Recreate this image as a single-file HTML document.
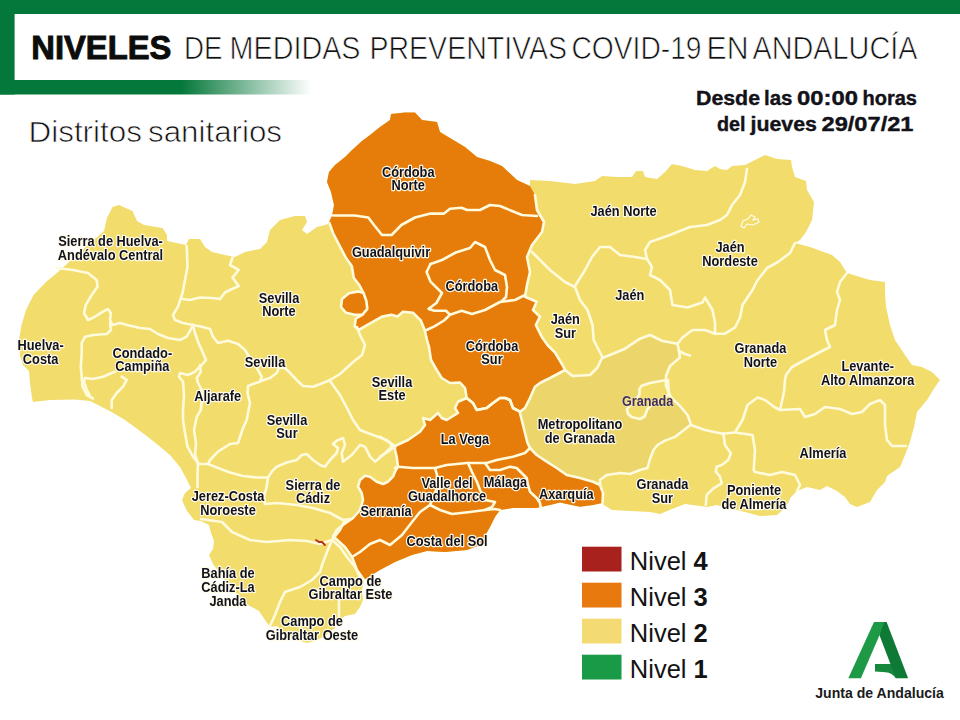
<!DOCTYPE html>
<html lang="es"><head><meta charset="utf-8"><title>Niveles de medidas preventivas COVID-19 en Andalucía</title>
<style>html,body{margin:0;padding:0;background:#fff}body{width:960px;height:720px;overflow:hidden}svg{display:block}text{font-family:"Liberation Sans",sans-serif}.lb{font-weight:bold;font-size:14px;fill:#12121f;stroke:#fffbe8;stroke-width:2.5px;stroke-linejoin:round;paint-order:stroke fill;text-anchor:middle}.bd{fill:none;stroke:#fffbdc;stroke-width:2.6;stroke-linejoin:round;stroke-linecap:round}</style></head><body>
<svg width="960" height="720" viewBox="0 0 960 720">
<defs><linearGradient id="fade" x1="0" y1="0" x2="1" y2="0"><stop offset="0" stop-color="#04773a"/><stop offset="0.58" stop-color="#04773a"/><stop offset="1" stop-color="#ffffff"/></linearGradient></defs>
<rect width="960" height="720" fill="#ffffff"/>
<rect x="0" y="0" width="960" height="14" fill="#04773a"/>
<rect x="0" y="0" width="14.6" height="94.5" fill="#04773a"/>
<rect x="0" y="80" width="312" height="14.5" fill="url(#fade)"/>
<g opacity="0.999">
<text x="31.3" y="58.8" font-size="34" font-weight="bold" fill="#0c0c0c" stroke="#0c0c0c" stroke-width="1" textLength="140" lengthAdjust="spacingAndGlyphs">NIVELES</text>
<text x="184" y="59" font-size="31" fill="#111" stroke="#fff" stroke-width="0.7" textLength="38.5" lengthAdjust="spacingAndGlyphs">DE</text>
<text x="229.5" y="59" font-size="31" fill="#111" stroke="#fff" stroke-width="0.7" textLength="131" lengthAdjust="spacingAndGlyphs">MEDIDAS</text>
<text x="369.5" y="59" font-size="31" fill="#111" stroke="#fff" stroke-width="0.7" textLength="197.5" lengthAdjust="spacingAndGlyphs">PREVENTIVAS</text>
<text x="571.5" y="59" font-size="31" fill="#111" stroke="#fff" stroke-width="0.7" textLength="130" lengthAdjust="spacingAndGlyphs">COVID-19</text>
<text x="706.5" y="59" font-size="31" fill="#111" stroke="#fff" stroke-width="0.7" textLength="42" lengthAdjust="spacingAndGlyphs">EN</text>
<text x="752.5" y="59" font-size="31" fill="#111" stroke="#fff" stroke-width="0.7" textLength="165" lengthAdjust="spacingAndGlyphs">ANDALUCÍA</text>
<text x="28.5" y="141.5" font-size="30" fill="#111" stroke="#fff" stroke-width="0.7" textLength="113.5" lengthAdjust="spacingAndGlyphs">Distritos</text>
<text x="148" y="141.5" font-size="30" fill="#111" stroke="#fff" stroke-width="0.7" textLength="134" lengthAdjust="spacingAndGlyphs">sanitarios</text>
<text x="696" y="104.6" font-size="21" font-weight="bold" fill="#121218" stroke="#121218" stroke-width="0.4" textLength="64" lengthAdjust="spacingAndGlyphs">Desde</text>
<text x="764" y="104.6" font-size="21" font-weight="bold" fill="#121218" stroke="#121218" stroke-width="0.4" textLength="28.5" lengthAdjust="spacingAndGlyphs">las</text>
<text x="797" y="104.6" font-size="21" font-weight="bold" fill="#121218" stroke="#121218" stroke-width="0.4" textLength="61" lengthAdjust="spacingAndGlyphs">00:00</text>
<text x="862.5" y="104.6" font-size="21" font-weight="bold" fill="#121218" stroke="#121218" stroke-width="0.4" textLength="54.5" lengthAdjust="spacingAndGlyphs">horas</text>
<text x="717" y="131.3" font-size="21" font-weight="bold" fill="#121218" stroke="#121218" stroke-width="0.4" textLength="28.5" lengthAdjust="spacingAndGlyphs">del</text>
<text x="750.5" y="131.3" font-size="21" font-weight="bold" fill="#121218" stroke="#121218" stroke-width="0.4" textLength="66.5" lengthAdjust="spacingAndGlyphs">jueves</text>
<text x="821.5" y="131.3" font-size="21" font-weight="bold" fill="#121218" stroke="#121218" stroke-width="0.4" textLength="92" lengthAdjust="spacingAndGlyphs">29/07/21</text>
</g>
<g id="map">
<path d="M112.5,207 L119,205 L132.5,211 L137,221 L144,225 L162.5,228 L167,235 L167,241 L186,245 L189,239 L200,239 L205,247 L212,252 L225,255 L235,257 L245,252 L260,249 L267,242 L270,230 L280,220 L295,216 L305,216 L307,222 L302,230 L307,234 L317,227 L325,225 L328,224 L332,216 L334,205 L331,192 L327,182 L329,172 L335,165 L345,157 L352,150 L362,141 L370,135 L380,127 L390,120 L391,114 L405,112.5 L415,112.5 L422,120 L437,122 L440,132 L455,141 L465,147 L477,157 L490,161 L502,166 L517,180 L530,186 L530,180 L550,181 L575,184 L595,181 L602,176 L617,177 L632,177 L636,171 L643,171 L645,177 L657,179 L665,172 L672,164 L682,166 L695,170 L707,171 L715,166 L720,169 L727,170 L732,166 L745,165 L755,160 L765,155 L777,159 L791,160 L792,167 L795,177 L806,181 L807,190 L814,202 L812,220 L806,232 L800,240 L795,243 L810,247 L832,255 L840,262 L847,273 L860,277 L870,280 L885,282 L885,292 L886,307 L890,325 L895,340 L905,355 L912,365 L922,367 L932,372 L940,380 L935,387 L927,400 L917,412 L914,427 L910,442 L905,455 L900,467 L887,476 L885,482 L877,490 L870,502 L857,507 L850,504 L845,497 L837,491 L827,486 L820,490 L807,487 L797,491 L791,497 L786,507 L777,515 L760,516 L745,512 L720,506 L717,505 L707,507 L700,506 L685,504 L672,509 L660,514 L650,512 L630,511 L612,510 L604,505 L602.5,503 L593,505 L580,506.7 L566.7,504 L560,502.5 L550,505 L541.7,506.7 L536.7,508 L513,508 L500,510 L495,517 L490,527 L485,536 L480,545 L467,550 L445,552 L427,551 L412,555 L395,562 L380,570 L370,576 L364,580 L362,590 L363,600 L360,607 L355,614 L345,616 L340,620 L335,628 L325,636 L315,641 L307,643 L297,640 L285,633 L277,626 L270,627 L265,620 L259,611 L248,605 L235,592 L225,580 L213,564 L209,555 L213,549 L214,541 L211,533 L209,525 L201,521 L194,520 L187,511 L182,500 L185,493 L191,488 L186,478 L180,467 L170,455 L155,442.5 L140,431 L125,420 L112.5,412.5 L100,406 L90,401 L75,399.5 L50,400 L33,402 L32,398 L30,383 L29,371 L23,365 L20,356 L19,340 L21.5,325 L26,310 L33.5,295 L46,282 L58,272 L80,252 L104,231 L107,218Z" fill="#f2dc6b"/>
<path d="M565,370 L572.5,376 L590,375 L597.5,367.5 L602,358 L607.5,356 L625,348.7 L640,338.7 L650,335 L662.5,341 L677.5,343.7 L679,351 L680,357.5 L670,366 L666,376 L666,386 L671,397.5 L680,406 L687.5,415 L691,424.5 L684,430 L675,436.9 L665,440.6 L657.5,445 L653.5,450 L650,459 L647.5,468 L640,470 L630,474 L620,473 L606.7,475 L600,480 L600,485 L593,481.7 L580,478 L566.7,475 L556.7,468 L546.7,461.7 L536.7,455 L530,448 L527.5,443 L525,433 L522.5,423 L520,413 L520,411.7 L525,408 L530,398 L535,386.7 L540,383 L550,378 L557,374Z" fill="#ecd66b"/>
<path d="M668,380 L662,380.7 L650,383 L641.7,385.8 L639.5,388.7 L639.5,394.6 L635,400 L627,409 L627.8,413.5 L631.5,417 L640,419 L644.6,416.5 L647.5,409 L655,402 L669,394.6 L668.6,388.7Z" fill="#f2dc6b"/>
<path class="bd" d="M668,380 L662,380.7 L650,383 L641.7,385.8 L639.5,388.7 L639.5,394.6 L635,400 L627,409 L627.8,413.5 L631.5,417 L640,419 L644.6,416.5 L647.5,409 L655,402 L669,394.6 L668.6,388.7Z"/>
<path d="M328,224 L332,216 L334,205 L331,192 L327,182 L329,172 L335,165 L345,157 L352,150 L362,141 L370,135 L380,127 L390,120 L391,114 L405,112.5 L415,112.5 L422,120 L437,122 L440,132 L455,141 L465,147 L477,157 L490,161 L502,166 L517,180 L530,186 L535,195 L537,210 L544,222 L542,232 L532,245 L527,257 L530,272 L527,285 L525,296.7 L536.7,301.7 L533,310 L540,316.7 L535.8,325 L541.7,336.7 L547.5,345 L555,352.5 L562.5,365 L565,370 L550,378 L540,383 L535,386.7 L530,398 L525,408 L520,411.7 L513,408 L510,400 L505,398 L500,398 L493,403 L486.7,408 L476.7,410 L473,403 L466.7,398 L465,388 L460,382.5 L450,383 L441.7,378 L436.7,370 L431,360 L429,347 L427,340 L424.7,330 L420.8,320.5 L413,312.8 L403,311.8 L397.5,316.6 L391.6,314.7 L382,316.6 L368.3,324.4 L358.6,330 L354.7,326.4 L355.7,318.6 L362.5,314.7 L354.7,314.7 L346,312.8 L341,307 L342,299 L348.9,293.3 L358.6,291.4 L363.5,293 L359.6,285.5 L353.7,277.8 L351.8,266 L346,258 L339,244.7 L333,233 L329.4,223Z" fill="#e67c0a"/>
<path d="M395,446 L408,440 L420,431.7 L425,425 L423,418 L430,420 L438,413 L441.7,418 L446.7,420 L458,413 L455,408 L458,401.7 L466.7,398 L473,403 L476.7,410 L486.7,408 L493,403 L500,398 L505,398 L510,400 L513,408 L520,411.7 L520,413 L522.5,423 L525,433 L527.5,443 L530,448 L536.7,455 L546.7,461.7 L556.7,468 L566.7,475 L580,478 L593,481.7 L600,485 L603,493 L602.5,503 L593,505 L580,506.7 L566.7,504 L560,502.5 L550,505 L541.7,506.7 L536.7,508 L513,508 L500,510 L495,517 L490,527 L485,536 L480,545 L467,550 L445,552 L427,551 L412,555 L395,562 L380,570 L370,576 L364,580 L357,570 L352,557 L345,547 L335,538 L333,536.7 L336.7,530 L343,525 L353,518 L360,510 L363,500 L361.7,493 L358,486.7 L360,480 L365,475.8 L370,476.7 L376.7,481.7 L383,484 L388,481.7 L393,476.7 L395,471.7 L398,466.7 L396.7,456.7 L395,450Z" fill="#e67c0a"/>
<path class="bd" d="M535,195 L537,210 L544,222 L542,232 L532,245 L527,257 L530,272 L527,285 L525,296.7 L536.7,301.7 L533,310 L540,316.7 L535.8,325 L541.7,336.7 L547.5,345 L555,352.5 L562.5,365 L565,370 L550,378 L540,383 L535,386.7 L530,398 L525,408 L520,411.7 L513,408 L510,400 L505,398 L500,398 L493,403 L486.7,408 L476.7,410 L473,403 L466.7,398 L465,388 L460,382.5 L450,383 L441.7,378 L436.7,370 L431,360 L429,347 L427,340 L424.7,330 L420.8,320.5 L413,312.8 L403,311.8 L397.5,316.6 L391.6,314.7 L382,316.6 L368.3,324.4 L358.6,330 L354.7,326.4 L355.7,318.6 L362.5,314.7 L354.7,314.7 L346,312.8 L341,307 L342,299 L348.9,293.3 L358.6,291.4 L363.5,293 L359.6,285.5 L353.7,277.8 L351.8,266 L346,258 L339,244.7 L333,233 L329.4,223"/>
<path class="bd" d="M395,446 L408,440 L420,431.7 L425,425 L423,418 L430,420 L438,413 L441.7,418 L446.7,420 L458,413 L455,408 L458,401.7 L466.7,398 L473,403 L476.7,410 L486.7,408 L493,403 L500,398 L505,398 L510,400 L513,408 L520,411.7 L520,413 L522.5,423 L525,433 L527.5,443 L530,448 L536.7,455 L546.7,461.7 L556.7,468 L566.7,475 L580,478 L593,481.7 L600,485 L603,493 L602.5,503"/>
<path class="bd" d="M364,580 L357,570 L352,557 L345,547 L335,538 L333,536.7 L336.7,530 L343,525 L353,518 L360,510 L363,500 L361.7,493 L358,486.7 L360,480 L365,475.8 L370,476.7 L376.7,481.7 L383,484 L388,481.7 L393,476.7 L395,471.7 L398,466.7 L396.7,456.7 L395,450 L395,446"/>
<path class="bd" d="M565,370 L572.5,376 L590,375 L597.5,367.5 L602,358 L607.5,356 L625,348.7 L640,338.7 L650,335 L662.5,341 L677.5,343.7 L679,351 L680,357.5 L670,366 L666,376 L666,386 L671,397.5 L680,406 L687.5,415 L691,424.5 L684,430 L675,436.9 L665,440.6 L657.5,445 L653.5,450 L650,459 L647.5,468 L640,470 L630,474 L620,473 L606.7,475 L600,480 L600,485"/>
<path class="bd" d="M57,268 L73,270 L88,273 L96.7,280 L97.5,286.7 L91.7,295 L85.8,305 L84,313 L88,320 L95,316.7 L103,311.7 L108,309 L110.8,313 L110,320 L112.5,325 L120,323 L127,325 L140,328 L150,329 L158,334 L168,338 L180,340 L186.7,336.7 L191.7,328 L193,325"/>
<path class="bd" d="M110,323 L111,330 L106.7,334 L93,335 L85,336.7 L81.7,343 L81.7,353 L80.8,366.7 L81.7,376.7 L82.5,386.7 L86.7,395 L93,398.5"/>
<path class="bd" d="M85,378 L84,381.7 L86.7,390 L90,396"/>
<path class="bd" d="M85,378 L93,379 L103,376.7 L111.7,373 L115,371.7"/>
<path class="bd" d="M121.7,376.7 L126.7,380 L123,386.7 L116.7,393 L111.7,400 L111.7,408"/>
<path class="bd" d="M186.7,246 L187.5,266.7 L185,280 L182.5,293 L178,306.7 L173,315 L175,320 L183,323 L193,325"/>
<path class="bd" d="M182.5,299 L190,300 L200,297.5 L212,298 L220,299 L225,292.5 L232,289 L238.7,286 L232.5,277.5 L238.7,270 L230,265 L232.5,257.5"/>
<path class="bd" d="M193,325 L195,333 L198,341.7 L203,353 L206,360 L201.7,365 L195,371.7 L188,375 L180,373 L179,376.7 L183,381.7 L184,395 L183,410 L183,420 L185,433 L187.5,446.7 L193,456.7 L198,463 L197.5,475 L197.5,487"/>
<path class="bd" d="M200,365 L200.8,371.7 L196.7,378 L198,383 L201.7,390 L202,398 L200.8,410 L196.7,417 L194,430 L196,443 L195,455 L198,463"/>
<path class="bd" d="M193,325 L201.7,326.7 L210,329 L213,336.7 L218,343 L228,340.8 L238,344 L245,350 L250,358 L258,370 L261.7,376.7 L260,381.7 L253,384 L248,386 L247.5,393 L250,403 L248,413 L246.7,420 L243,428 L238,443 L230,444 L218,451.7 L210,460 L208,464 L198,464"/>
<path class="bd" d="M261,381 L270,378 L276.7,373 L279,368 L285,368 L290,373 L296.7,380 L303,386 L313,386.7 L323,383 L330,380 L340,374 L352,363 L362,355 L365,345 L360,335 L357,327"/>
<path class="bd" d="M330,381 L335,388 L340,395 L347,408 L353,420 L360,430 L373,435 L386.7,440 L394,445.5"/>
<path class="bd" d="M208,464 L216.7,467.5 L230,472.5 L243,476 L256.7,477.5 L268,477.5 L271.7,471.7 L276.7,466.7 L286.7,462.5 L296.7,460 L301.7,455 L306.7,454 L313,460 L320,465 L325,466.7 L330,460 L336.7,453 L338,448 L333,444 L336.7,440.8 L343,438 L345,445 L341.7,453 L343,461.7 L351.7,455 L360,445 L365,446.7 L370,456.7 L375,461.7 L383,455 L391.7,446.7 L395,446"/>
<path class="bd" d="M268,477.5 L266.7,486.7 L264,496.7 L265,504 L276.7,503 L296.7,505 L313,508 L330,513 L343,520 L351,519"/>
<path class="bd" d="M201,519 L222,522 L232,532 L250,540 L267,542 L290,540 L307,541 L320,544 L332,540 L340,530 L345,520"/>
<path class="bd" d="M332,540 L327,552 L322,565 L320,572 L312,580 L300,587 L285,592 L280,602 L275,615 L270,626"/>
<path class="bd" d="M339,601 L339,617"/>
<path class="bd" d="M332,540 L340,547 L347,557 L355,567 L360,577 L364,580"/>
<path class="bd" d="M532,252 L550,270 L565,282 L575,287 L580,300 L587.5,310 L592.5,325 L593.7,340 L600,352.5 L603,358"/>
<path class="bd" d="M575,286 L585,270 L592,257 L600,247 L610,247 L620,255 L635,257 L647,259"/>
<path class="bd" d="M647,259 L645,250 L650,242 L670,235 L690,227 L707,225 L720,220 L727,215 L732,205 L740,195 L745,182 L747,169"/>
<path class="bd" d="M647,259 L652,267 L650,275 L660,280 L670,290 L672.5,305 L687.5,307.5 L702.5,302.5 L705,297.5 L712.5,310 L715,322.5 L715,333.7"/>
<path class="bd" d="M795,243 L790,253 L778,262 L767,268 L757,281 L752.5,290 L742.5,305 L740,317.5 L735,327.5 L725,333.7 L715,333.7 L705,330 L692.5,330 L682.5,337.5 L677.5,343.7"/>
<path class="bd" d="M679,351 L685,354 L690,355.5"/>
<path class="bd" d="M847,273 L840,282 L837,292 L840,300 L837,310 L835,325 L825,330 L827,340 L830,347 L820,352 L805,360 L792,367 L786,375 L785,380 L784,392 L780,410"/>
<path class="bd" d="M780,410 L800,409 L805,417 L815,414 L825,407 L840,409 L852,414 L862,412 L870,404 L880,400 L885,405 L885,425 L887,440 L892,446 L906,446"/>
<path class="bd" d="M780,410 L775,407.5 L765,400 L757.5,397.5 L747.5,405 L742.5,420 L735,432.5 L722.5,433.7 L705,430 L691,425"/>
<path class="bd" d="M735,432.5 L752.5,435 L755,450 L753.7,470 L755,472 L770,475 L782,472 L795,475 L800,485 L797,491"/>
<path class="bd" d="M723.3,433.3 L725,445 L730.8,453.3 L728.3,460 L721.7,465 L716.7,466.7 L715.8,471.7 L720,476.7 L721.7,483.3 L713.3,488.3 L706.7,495 L705.8,505"/>
<path class="bd" d="M395,468 L398,466.7 L413,468 L435,468 L446.7,465 L466.7,463 L486.7,463 L496.7,460 L513,456.7 L525,453 L530,448"/>
<path class="bd" d="M435,468 L437,475 L436,490 L430,505 L420,512 L412,522 L402,535 L390,545 L380,540 L370,544 L360,552 L352,557"/>
<path class="bd" d="M430,505 L440,510 L452,514 L470,512 L485,510 L495,509 L500,510"/>
<path class="bd" d="M485,500 L495,502 L492,507 L485,510"/>
<path class="bd" d="M468,463 L472,472 L477,482 L480,490 L485,500"/>
<path class="bd" d="M485,463 L490,470 L500,470 L510,466.7 L516.7,468 L521.7,473 L526.7,478 L528,485 L530,491.7 L536.7,498 L540,503 L540.8,508"/>
<path class="bd" d="M380,436.7 L390,443 L393,448"/>
<path class="bd" d="M380,456.7 L388,451.7 L393,448"/>
<path class="bd" d="M333,215.5 L354.7,215.5 L368.3,217.5 L374,225 L382,235 L391.6,235 L401.4,225 L415,217.5 L430.5,213.6 L444,213.6 L450,208.7 L461.6,207.8 L467,210 L480,210 L490,205 L500,206 L512,211 L522,215 L537,216"/>
<path class="bd" d="M430.5,264 L442,260 L455.8,252.5 L470,248 L475,242 L485,247 L490,260 L495,270 L505,275 L507,287 L506,297 L502,301"/>
<path class="bd" d="M430.5,264 L426.6,272 L430.5,281.6 L442,293 L436.4,303 L428.6,308.9 L434.4,310.8 L446,310.8 L450,314.7"/>
<path class="bd" d="M426.6,330 L434.4,326.4 L444,320.5 L450,314.7 L461.6,310.8 L472,314 L485,310 L500,302 L515,300 L525,295"/>
<path class="bd" d="M363.5,293 L366.4,301 L367.3,308.9 L362.5,314.7"/>
<path d="M741,226 L743,221 L748,219 L751,215 L755,217 L753,220 L758,219 L759,222 L753,225 L747,224 L744,228Z" fill="none" stroke="#fffdf2" stroke-width="1.1"/>
<path d="M316,540 l3,2 l3,0 l3,3" fill="none" stroke="#b5301e" stroke-width="1.8" stroke-linecap="round"/>
</g>
<g id="labels" opacity="0.999">
<text class="lb" transform="translate(408.2,176.5) scale(0.915,1)">Córdoba</text>
<text class="lb" transform="translate(408.2,190.3) scale(0.915,1)">Norte</text>
<text class="lb" transform="translate(391,257) scale(0.915,1)">Guadalquivir</text>
<text class="lb" transform="translate(471.8,291.3) scale(0.915,1)">Córdoba</text>
<text class="lb" transform="translate(492,350.5) scale(0.915,1)">Córdoba</text>
<text class="lb" transform="translate(492,364.3) scale(0.915,1)">Sur</text>
<text class="lb" transform="translate(623.5,216.3) scale(0.915,1)">Jaén Norte</text>
<text class="lb" transform="translate(730,252) scale(0.915,1)">Jaén</text>
<text class="lb" transform="translate(730,265.8) scale(0.915,1)">Nordeste</text>
<text class="lb" transform="translate(629.8,300) scale(0.915,1)">Jaén</text>
<text class="lb" transform="translate(565.3,324.3) scale(0.915,1)">Jaén</text>
<text class="lb" transform="translate(565.3,338) scale(0.915,1)">Sur</text>
<text class="lb" transform="translate(760.4,353) scale(0.915,1)">Granada</text>
<text class="lb" transform="translate(760.4,366.8) scale(0.915,1)">Norte</text>
<text class="lb" transform="translate(867.7,371) scale(0.915,1)">Levante-</text>
<text class="lb" transform="translate(867.7,384.6) scale(0.915,1)">Alto Almanzora</text>
<text class="lb" transform="translate(580,428.7) scale(0.915,1)">Metropolitano</text>
<text class="lb" transform="translate(580,442.5) scale(0.915,1)">de Granada</text>
<text class="lb" transform="translate(823,458) scale(0.915,1)">Almería</text>
<text class="lb" transform="translate(662.4,488.8) scale(0.915,1)">Granada</text>
<text class="lb" transform="translate(662.4,502.5) scale(0.915,1)">Sur</text>
<text class="lb" transform="translate(754,495) scale(0.915,1)">Poniente</text>
<text class="lb" transform="translate(754,508.8) scale(0.915,1)">de Almería</text>
<text class="lb" transform="translate(566.3,499.2) scale(0.915,1)">Axarquía</text>
<text class="lb" transform="translate(505.4,487.2) scale(0.915,1)">Málaga</text>
<text class="lb" transform="translate(447,487.5) scale(0.915,1)">Valle del</text>
<text class="lb" transform="translate(447,501.2) scale(0.915,1)">Guadalhorce</text>
<text class="lb" transform="translate(465,443.8) scale(0.915,1)">La Vega</text>
<text class="lb" transform="translate(386,516.2) scale(0.915,1)">Serranía</text>
<text class="lb" transform="translate(447,545.8) scale(0.915,1)">Costa del Sol</text>
<text class="lb" transform="translate(392,386.5) scale(0.915,1)">Sevilla</text>
<text class="lb" transform="translate(392,400.2) scale(0.915,1)">Este</text>
<text class="lb" transform="translate(279,302.6) scale(0.915,1)">Sevilla</text>
<text class="lb" transform="translate(279,316.3) scale(0.915,1)">Norte</text>
<text class="lb" transform="translate(265,367) scale(0.915,1)">Sevilla</text>
<text class="lb" transform="translate(217.7,400.6) scale(0.915,1)">Aljarafe</text>
<text class="lb" transform="translate(287,424.5) scale(0.915,1)">Sevilla</text>
<text class="lb" transform="translate(287,438.2) scale(0.915,1)">Sur</text>
<text class="lb" transform="translate(313,489.5) scale(0.915,1)">Sierra de</text>
<text class="lb" transform="translate(313,503.2) scale(0.915,1)">Cádiz</text>
<text class="lb" transform="translate(228,501.3) scale(0.915,1)">Jerez-Costa</text>
<text class="lb" transform="translate(228,515) scale(0.915,1)">Noroeste</text>
<text class="lb" transform="translate(228,578) scale(0.915,1)">Bahía de</text>
<text class="lb" transform="translate(228,591.8) scale(0.915,1)">Cádiz-La</text>
<text class="lb" transform="translate(228,605.5) scale(0.915,1)">Janda</text>
<text class="lb" transform="translate(350.5,585.5) scale(0.915,1)">Campo de</text>
<text class="lb" transform="translate(350.5,599.3) scale(0.915,1)">Gibraltar Este</text>
<text class="lb" transform="translate(312,626.2) scale(0.915,1)">Campo de</text>
<text class="lb" transform="translate(312,640) scale(0.915,1)">Gibraltar Oeste</text>
<text class="lb" transform="translate(142.3,357.5) scale(0.915,1)">Condado-</text>
<text class="lb" transform="translate(142.3,371.2) scale(0.915,1)">Campiña</text>
<text class="lb" transform="translate(40.6,350) scale(0.915,1)">Huelva-</text>
<text class="lb" transform="translate(40.6,363.6) scale(0.915,1)">Costa</text>
<text class="lb" transform="translate(110.5,246.3) scale(0.915,1)">Sierra de Huelva-</text>
<text class="lb" transform="translate(110.5,260) scale(0.915,1)">Andévalo Central</text>
<text transform="translate(647.7,405.8) scale(0.905,1)" font-size="14" font-weight="bold" fill="#412e5e" stroke="#f5e6a0" stroke-width="1.6" paint-order="stroke fill" stroke-linejoin="round" text-anchor="middle">Granada</text>
</g>
<g opacity="0.999">
<rect x="582" y="546.7" width="39.5" height="24.8" fill="#a9211d"/>
<text x="629.8" y="569.7" font-size="25.5" fill="#131313">Nivel <tspan font-weight="bold">4</tspan></text>
<rect x="582" y="582.7" width="39.5" height="24.8" fill="#e8790f"/>
<text x="629.8" y="605.7" font-size="25.5" fill="#131313">Nivel <tspan font-weight="bold">3</tspan></text>
<rect x="582" y="618.7" width="39.5" height="24.8" fill="#f3da73"/>
<text x="629.8" y="641.7" font-size="25.5" fill="#131313">Nivel <tspan font-weight="bold">2</tspan></text>
<rect x="582" y="654.7" width="39.5" height="24.8" fill="#189a47"/>
<text x="629.8" y="677.7" font-size="25.5" fill="#131313">Nivel <tspan font-weight="bold">1</tspan></text>
</g>
<g id="logo" opacity="0.999">
<path d="M875,664 L892,664 L896.5,678.2 L895.9,678.2 C893,674.5 890,672.6 885.7,672.3 L875,671.4 Z" fill="#16883d"/>
<path d="M883.4,622 L886.6,622 L908.1,678.2 L895.9,678.2 L879.2,634.4 Z" fill="#0f7a36"/>
<path d="M874,622 L884.4,622 L879.8,634.4 L860.9,678.2 L848.3,678.2 Z" fill="#1e9a46"/>
<text x="815.3" y="697.6" font-size="14" font-weight="bold" fill="#1a1a1a" textLength="128.5" lengthAdjust="spacingAndGlyphs">Junta de Andalucía</text>
</g>
</svg></body></html>
